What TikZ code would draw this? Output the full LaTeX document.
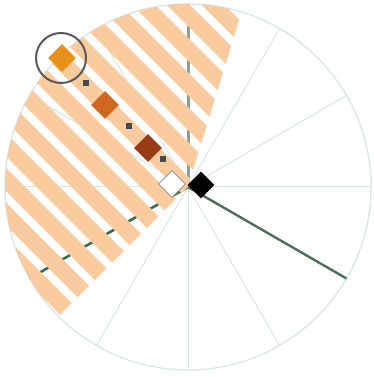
\documentclass[tikz,border=0pt]{standalone}
\usetikzlibrary{shapes.geometric}
\definecolor{spokec}{HTML}{D8E6E3}
\definecolor{peach}{HTML}{FBCBA0}
\definecolor{vgreen}{HTML}{7FA593}
\definecolor{dgreen}{HTML}{3E6B50}
\definecolor{lgreen}{HTML}{4D6E58}
\definecolor{dorange}{HTML}{E8911A}
\definecolor{dchoc}{HTML}{D0691F}
\definecolor{dsienna}{HTML}{983A16}
\definecolor{sqc}{HTML}{414A52}
\tikzset{
  spoke/.style={draw=spokec, line width=1pt},
  rim/.style={draw=spokec, line width=1.3pt},
  vline/.style={draw=vgreen, line width=3pt},
  llline/.style={draw=dgreen, line width=2.6pt},
  rline/.style={draw=lgreen, line width=2.4pt},
  stripe/.style={draw=peach, line width=16.3pt},
  dmd/.style={diamond, aspect=1, minimum size=28pt, inner sep=0pt},
  sq/.style={rectangle, fill=sqc, minimum size=6pt, inner sep=0pt},
  hilite/.style={circle, draw=black!65, line width=2pt, minimum size=50pt, inner sep=0pt}
}
\begin{document}
\begin{tikzpicture}[x=1pt,y=1pt]
\useasboundingbox (0,0) rectangle (373,377);
\begin{scope}[shift={(188,190)}]
  \coordinate (O) at (0,0);
  \foreach \a in {0,30,...,330} {
    \coordinate (s\a) at (\a:183);
    \draw[spoke] (O) -- (s\a);
  }
  \draw[rim] (O) circle (183);
  \coordinate (top) at (90:183);
  \coordinate (ll) at (210:183);
  \coordinate (lr) at (-30:183);
  \draw[vline] (O) -- (top);
  \draw[llline] (O) -- (ll);
  \draw[rline] (O) -- (lr);
  \begin{scope}
    \clip (O) -- (73:183) arc (73:225:183) -- cycle;
    \foreach \k in {-10,...,10} {
      \draw[stripe] ({34.7*\k-1-260},260) -- ({34.7*\k-1+260},-260);
    }
  \end{scope}
  \node[hilite] (hl) at (-127,129) {};
  \node[sq] (q1) at (-102,104) {};
  \node[sq] (q2) at (-59,61) {};
  \node[sq] (q3) at (-25,28) {};
  \node[dmd, fill=dorange] (d1) at (-126,129) {};
  \node[dmd, fill=dchoc] (d2) at (-83,82) {};
  \node[dmd, fill=dsienna] (d3) at (-40,39) {};
  \node[dmd, fill=white, draw=black!45, line width=0.8pt, minimum size=27pt] (dw) at (-16,3) {};
  \node[dmd, fill=black, minimum size=27pt] (db) at (13,2) {};
\end{scope}
\end{tikzpicture}
\end{document}
